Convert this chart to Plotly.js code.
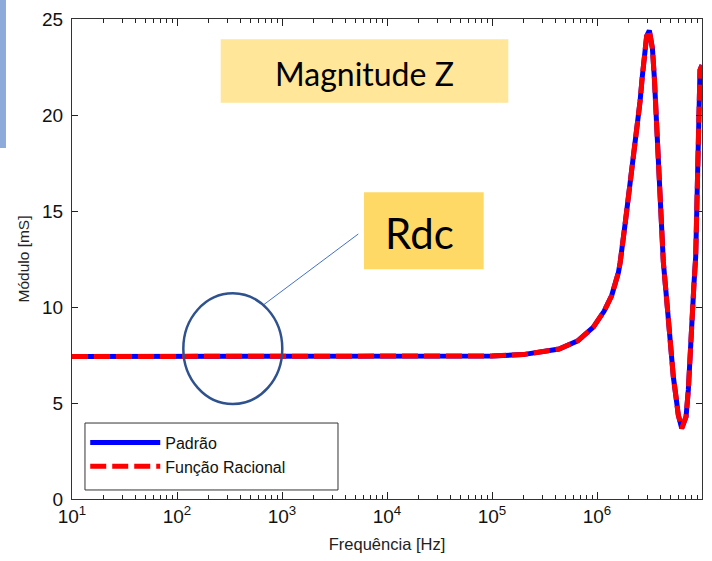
<!DOCTYPE html>
<html>
<head>
<meta charset="utf-8">
<script src="https://cdn.plot.ly/plotly-3.0.1.min.js"></script>
<style>html,body{margin:0;padding:0;background:#fff;}#chart{width:712px;height:561px;}</style>
</head>
<body>
<div id="chart"></div>
<script>
// Frequency (Hz)
const freqHz = [10, 100, 1000, 1e4, 1e5, 1.97e5, 2.86e5, 4.35e5, 6.55e5, 9.23e5, 1.17e6, 1.38e6, 1.60e6,
  1.66e6, 1.85e6, 2.06e6, 2.22e6, 2.35e6, 2.44e6, 2.57e6, 2.70e6, 2.82e6, 2.97e6, 3.15e6, 3.37e6,
  3.52e6, 3.65e6, 3.78e6, 3.89e6, 4.05e6, 4.16e6, 4.28e6, 4.61e6, 4.78e6, 5.07e6, 5.33e6, 5.65e6,
  5.94e6, 6.41e6, 7.05e6, 7.41e6, 7.57e6, 7.80e6, 7.98e6, 8.15e6, 8.39e6, 8.71e6, 8.91e6, 9.10e6,
  9.23e6, 9.35e6, 9.57e6, 1e7];
// Módulo [mS] - Padrão
const padrao = [7.42, 7.42, 7.42, 7.42, 7.45, 7.52, 7.67, 7.81, 8.24, 8.95, 9.79, 10.6, 11.8,
  12.3, 14.3, 16.3, 17.7, 18.8, 19.6, 20.7, 22.0, 23.2, 24.1, 24.4, 23.47,
  21.91, 20.0, 18.70, 17.05, 15.48, 13.92, 12.36, 10.36, 9.23, 7.41, 6.37, 5.33,
  4.38, 3.68, 4.29, 5.68, 6.81, 7.93, 8.89, 10.02, 11.23, 12.62, 14.79, 17.40,
  19.13, 20.87, 22.34, 22.6];
// Módulo [mS] - Função Racional
const racional = [7.42, 7.42, 7.42, 7.42, 7.45, 7.52, 7.67, 7.81, 8.24, 8.95, 9.79, 10.6, 11.8,
  12.3, 14.3, 16.3, 17.7, 18.8, 19.6, 20.7, 22.0, 23.2, 24.1, 24.4, 23.47,
  21.91, 20.0, 18.70, 17.05, 15.48, 13.92, 12.36, 10.36, 9.23, 7.41, 6.37, 5.33,
  4.38, 3.68, 4.29, 5.68, 6.81, 7.93, 8.89, 10.02, 11.23, 12.62, 14.79, 17.40,
  19.13, 20.87, 22.34, 22.6];
const seriesNames = ["Padrão", "Função Racional"];
const xTickVals = [1e1, 1e2, 1e3, 1e4, 1e5, 1e6, 1e7];
const xTickText = ["10<sup>1</sup>", "10<sup>2</sup>", "10<sup>3</sup>", "10<sup>4</sup>", "10<sup>5</sup>", "10<sup>6</sup>", "10<sup>7</sup>"];
const yTickVals = [0, 5, 10, 15, 20, 25];

const traces = [
  {x: freqHz, y: padrao, name: seriesNames[0], type: "scatter", mode: "lines",
   line: {color: "#0000ff", width: 5}},
  {x: freqHz, y: racional, name: seriesNames[1], type: "scatter", mode: "lines",
   line: {color: "#ff0000", width: 5, dash: "16px,6px"}}
];

const axisFont = {family: "Liberation Sans", size: 19, color: "#111"};

const layout = {
  width: 712, height: 561,
  margin: {l: 72, r: 10, t: 19, b: 62},
  paper_bgcolor: "#ffffff", plot_bgcolor: "#ffffff",
  showlegend: true,
  legend: {x: 0.021, y: 0.153, xanchor: "left", yanchor: "top",
    bgcolor: "rgba(0,0,0,0)", borderwidth: 0,
    font: {family: "Liberation Sans", size: 16, color: "#111"},
    itemwidth: 70},
  xaxis: {type: "log", range: [1, 7], tickmode: "array", tickvals: xTickVals, ticktext: xTickText,
    ticks: "inside", ticklen: 7, tickcolor: "#222", showline: true, linecolor: "#333", linewidth: 1,
    mirror: "ticks", showgrid: false, zeroline: false,
    minor: {ticks: "inside", ticklen: 4, dtick: "D1", tickcolor: "#222", showgrid: false},
    tickfont: axisFont,
    title: {text: "Frequência [Hz]", font: {family: "Liberation Sans", size: 16.5, color: "#222"}, standoff: 12}},
  yaxis: {range: [0, 25], tickmode: "array", tickvals: yTickVals,
    ticks: "inside", ticklen: 6, tickcolor: "#222", showline: true, linecolor: "#333", linewidth: 1,
    mirror: "ticks", showgrid: false, zeroline: false, ticklabelstandoff: 4,
    tickfont: axisFont,
    title: {text: "Módulo [mS]", font: {family: "Liberation Sans", size: 15.5, color: "#222"}, standoff: 8}},
  shapes: [
    {type: "rect", xref: "paper", yref: "paper", x0: -0.1143, x1: -0.1048, y0: 0.7313, y1: 1.04,
     fillcolor: "#8eaadb", line: {width: 0}, layer: "above"},
    {type: "rect", xref: "paper", yref: "paper", x0: 0.236, x1: 0.6925, y0: 0.8256, y1: 0.9577,
     fillcolor: "#ffe699", line: {width: 0}, layer: "above"},
    {type: "rect", xref: "paper", yref: "paper", x0: 0.4635, x1: 0.6535, y0: 0.4785, y1: 0.639,
     fillcolor: "#ffd966", line: {width: 0}, layer: "above"},
    {type: "line", xref: "paper", yref: "paper", x0: 0.3037, y0: 0.4042, x1: 0.4544, y1: 0.5521,
     line: {color: "#4472c4", width: 1}, layer: "above"},
    {type: "circle", xref: "paper", yref: "paper", x0: 0.1767, x1: 0.3338, y0: 0.1979, y1: 0.4285,
     line: {color: "#2f528f", width: 2.5}, fillcolor: "rgba(0,0,0,0)", layer: "above"},
    {type: "rect", xref: "paper", yref: "paper", x0: 0.0206, x1: 0.4222, y0: 0.0188, y1: 0.1583,
     fillcolor: "#ffffff", line: {color: "#333", width: 1}, layer: "above"}
  ],
  annotations: [
    {xref: "paper", yref: "paper", x: 0.464, y: 0.8875, xanchor: "center", yanchor: "middle",
     text: "Magnitude Z", showarrow: false, font: {family: "Lato", size: 32, color: "#000"}},
    {xref: "paper", yref: "paper", x: 0.5516, y: 0.554, xanchor: "center", yanchor: "middle",
     text: "Rdc", showarrow: false, font: {family: "Lato", size: 42, color: "#000"}}
  ]
};

Plotly.newPlot("chart", traces, layout, {displayModeBar: false, staticPlot: true});
</script>
</body>
</html>
